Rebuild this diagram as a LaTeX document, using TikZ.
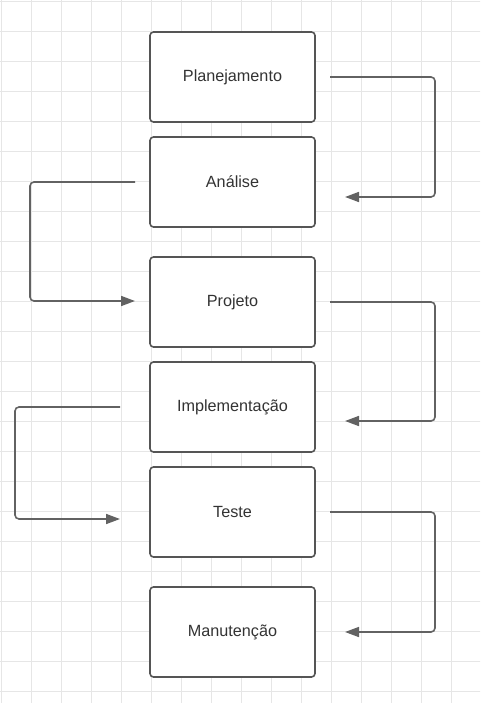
\documentclass[tikz,border=0pt]{standalone}
\usepackage{fontspec}
\setmainfont{Liberation Sans}
\usetikzlibrary{positioning, arrows.meta}

\definecolor{gridgray}{HTML}{E6E6E6}
\definecolor{boxgray}{HTML}{555555}
\definecolor{linegray}{HTML}{626262}
\definecolor{textgray}{HTML}{333333}

\tikzset{
  phase/.style={draw=boxgray, fill=white, line width=1.6pt, rounded corners=3.5pt,
    minimum width=165pt, minimum height=90pt, outer sep=0pt, text=textgray,
    font=\fontsize{16.2}{19}\selectfont},
  flow/.style={draw=linegray, line width=1.6pt, rounded corners=4pt,
    -{Triangle[length=14pt,width=10pt]}}
}

\begin{document}
\begin{tikzpicture}
\useasboundingbox (0,0) rectangle (480pt,-703pt);
\begin{scope}
\clip (0,0) rectangle (480pt,-703pt);
\draw[gridgray, line width=0.8pt, shift={(1pt,-1pt)}] (-30pt,30pt) grid[step=30pt] (510pt,-720pt);
\end{scope}

\node[phase] at (232.5pt,-77pt) (plan) {Planejamento};
\node[phase, below=15pt of plan] (analise) {Análise};
\node[phase, below=30pt of analise] (projeto) {Projeto};
\node[phase, below=15pt of projeto] (impl) {Implementação};
\node[phase, below=15pt of impl] (teste) {Teste};
\node[phase, below=30pt of teste] (manut) {Manutenção};

\coordinate[right=15pt of plan] (s1);
\coordinate[right=30pt of analise, yshift=-15pt] (e1);
\coordinate[left=15pt of analise] (s2);
\coordinate[left=15pt of projeto, yshift=1pt] (e2);
\coordinate[right=15pt of projeto] (s3);
\coordinate[right=30pt of impl, yshift=-14pt] (e3);
\coordinate[left=30pt of impl] (s4);
\coordinate[left=30pt of teste, yshift=-7pt] (e4);
\coordinate[right=15pt of teste] (s5);
\coordinate[right=30pt of manut] (e5);

\draw[flow] (s1) -- ++(105pt,0) |- (e1);
\draw[flow] (s2) -- ++(-105pt,0) |- (e2);
\draw[flow] (s3) -- ++(105pt,0) |- (e3);
\draw[flow] (s4) -- ++(-105pt,0) |- (e4);
\draw[flow] (s5) -- ++(105pt,0) |- (e5);
\end{tikzpicture}
\end{document}
